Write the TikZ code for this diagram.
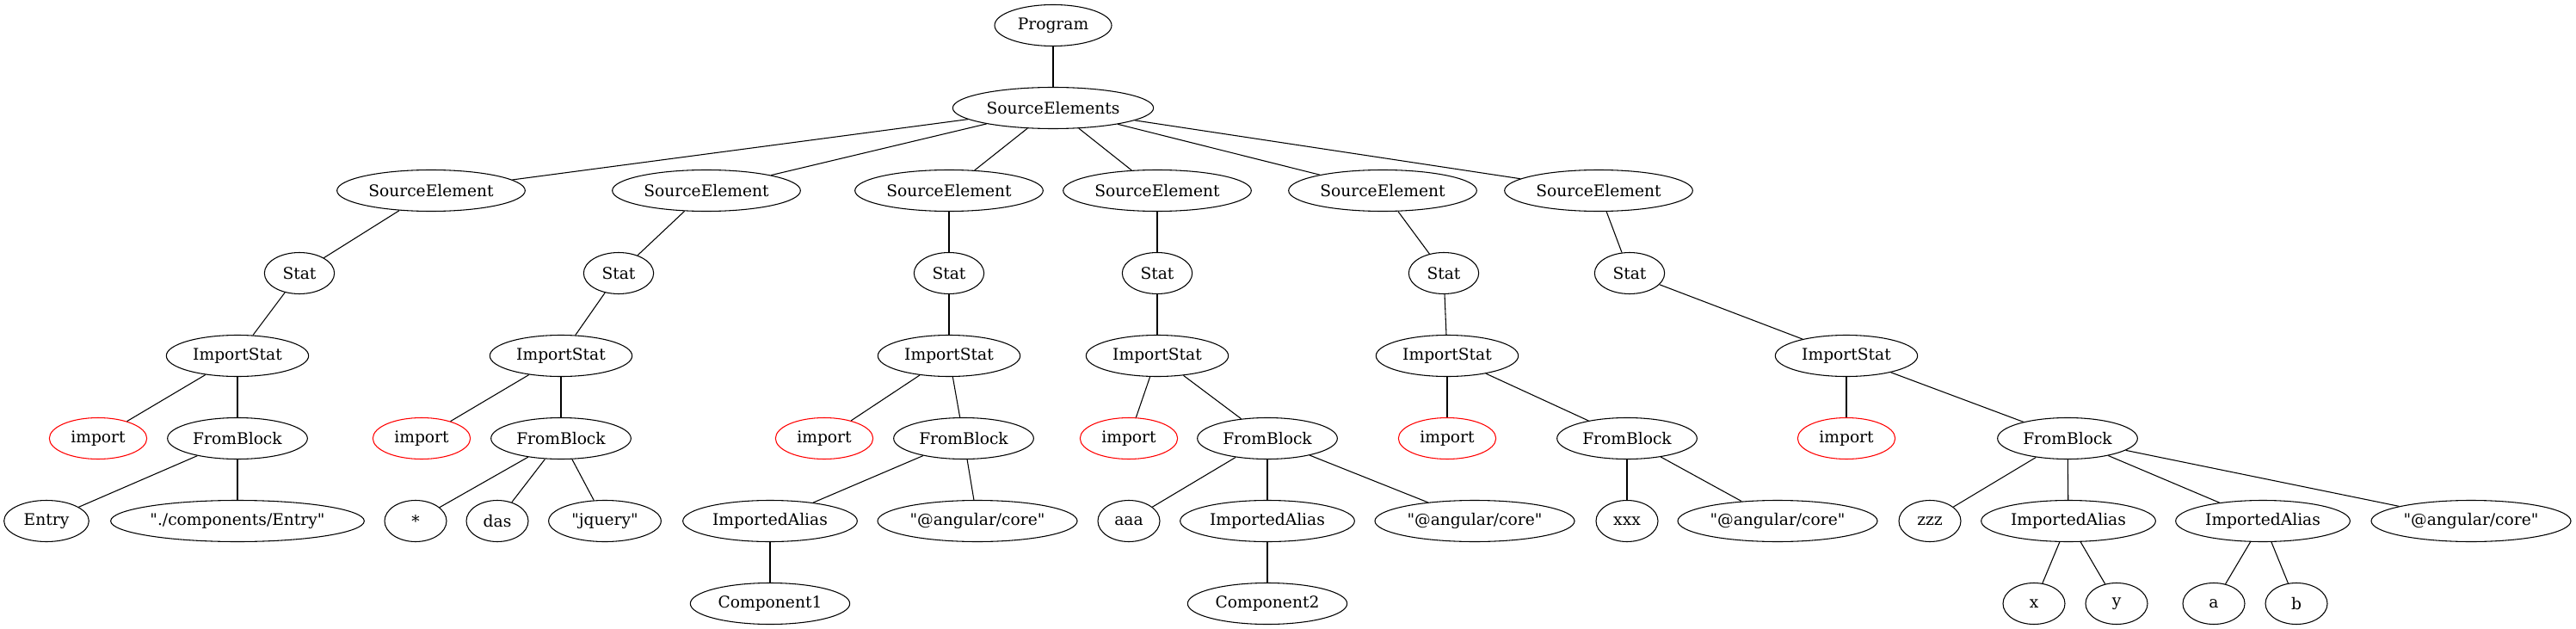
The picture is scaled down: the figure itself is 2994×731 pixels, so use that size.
\documentclass[tikz,border=0pt]{standalone}
\usepackage{fontspec}
\setmainfont{DejaVu Serif}[Ligatures=TeXOff]
\usepackage{tikz}
\usetikzlibrary{shapes,positioning}

\begin{document}
\begin{tikzpicture}[
x=0.75pt, y=-0.75pt, thick,
ast-node/.style = {ellipse,thick,draw=black,inner sep=0pt,minimum height=36pt,minimum width=#1,font=\fontsize{14pt}{16pt}\selectfont},
ast-node/.default = 54pt,
kw-node/.style = {ast-node=85pt,draw=red}
]
\useasboundingbox (0,0) rectangle (2994,731);

% top
\node [ast-node=102pt] (prog) at (1224, 29.5) {Program};
\node [ast-node=175pt] (elems) at (1224, 125.5) {SourceElements};

% source elements
\node [ast-node=164pt] (se1) at (501, 221.5) {SourceElement};
\node [ast-node=164pt] (se2) at (821, 221.5) {SourceElement};
\node [ast-node=164pt] (se3) at (1103, 221.5) {SourceElement};
\node [ast-node=164pt] (se4) at (1345, 221.5) {SourceElement};
\node [ast-node=164pt] (se5) at (1607, 221.5) {SourceElement};
\node [ast-node=164pt] (se6) at (1858, 221.5) {SourceElement};

% statements
\node [ast-node=61pt] (st1) at (348, 317.5) {Stat};
\node [ast-node=61pt] (st2) at (719, 317.5) {Stat};
\node [ast-node=61pt] (st3) at (1103, 317.5) {Stat};
\node [ast-node=61pt] (st4) at (1345, 317.5) {Stat};
\node [ast-node=61pt] (st5) at (1678, 317.5) {Stat};
\node [ast-node=61pt] (st6) at (1894, 317.5) {Stat};

\node [ast-node=124pt] (is1) at (276, 413.5) {ImportStat};
\node [ast-node=124pt] (is2) at (652, 413.5) {ImportStat};
\node [ast-node=124pt] (is3) at (1103, 413.5) {ImportStat};
\node [ast-node=124pt] (is4) at (1345, 413.5) {ImportStat};
\node [ast-node=124pt] (is5) at (1682, 413.5) {ImportStat};
\node [ast-node=124pt] (is6) at (2146, 413.5) {ImportStat};

% import / from
\node [kw-node] (im1) at (114, 509.5) {import};
\node [ast-node=122pt] (fb1) at (276, 509.5) {FromBlock};
\node [kw-node] (im2) at (490, 509.5) {import};
\node [ast-node=122pt] (fb2) at (652, 509.5) {FromBlock};
\node [kw-node] (im3) at (958, 509.5) {import};
\node [ast-node=122pt] (fb3) at (1120, 509.5) {FromBlock};
\node [kw-node] (im4) at (1312, 509.5) {import};
\node [ast-node=122pt] (fb4) at (1473, 509.5) {FromBlock};
\node [kw-node] (im5) at (1682, 509.5) {import};
\node [ast-node=122pt] (fb5) at (1891, 509.5) {FromBlock};
\node [kw-node] (im6) at (2146, 509.5) {import};
\node [ast-node=122pt] (fb6) at (2403, 509.5) {FromBlock};

% leaves
\node [ast-node=74pt] (entry) at (54, 605.5) {Entry};
\node [ast-node=221pt] (src1) at (276, 605.5) {"./components/Entry"};
\node [ast-node] (star) at (483, 605.5) {*};
\node [ast-node] (das) at (578, 605.5) {das};
\node [ast-node=98pt] (src2) at (703, 605.5) {"jquery"};
\node [ast-node=152pt] (al1) at (895, 605.5) {ImportedAlias};
\node [ast-node=174pt] (src3) at (1136, 605.5) {"@angular/core"};
\node [ast-node] (aaa) at (1312, 605.5) {aaa};
\node [ast-node=152pt] (al2) at (1473, 605.5) {ImportedAlias};
\node [ast-node=174pt] (src4) at (1714, 605.5) {"@angular/core"};
\node [ast-node] (xxx) at (1891, 605.5) {xxx};
\node [ast-node=174pt] (src5) at (2066, 605.5) {"@angular/core"};
\node [ast-node] (zzz) at (2243, 605.5) {zzz};
\node [ast-node=152pt] (al3) at (2404, 605.5) {ImportedAlias};
\node [ast-node=152pt] (al4) at (2630, 605.5) {ImportedAlias};
\node [ast-node=174pt] (src6) at (2872, 605.5) {"@angular/core"};

\node [ast-node=139pt] (comp1) at (895, 701.5) {Component1};
\node [ast-node=139pt] (comp2) at (1473, 701.5) {Component2};
\node [ast-node] (x) at (2364, 701.5) {x};
\node [ast-node] (y) at (2460, 701.5) {y};
\node [ast-node] (a) at (2573, 701.5) {a};
\node [ast-node] (b) at (2669, 701.5) {b};

% edges
\draw (prog) -- (elems);
\draw (elems) -- (se1);
\draw (elems) -- (se2);
\draw (elems) -- (se3);
\draw (elems) -- (se4);
\draw (elems) -- (se5);
\draw (elems) -- (se6);

\draw (se1) -- (st1);
\draw (st1) -- (is1);
\draw (is1) -- (im1);
\draw (is1) -- (fb1);
\draw (fb1) -- (entry);
\draw (fb1) -- (src1);

\draw (se2) -- (st2);
\draw (st2) -- (is2);
\draw (is2) -- (im2);
\draw (is2) -- (fb2);
\draw (fb2) -- (star);
\draw (fb2) -- (das);
\draw (fb2) -- (src2);

\draw (se3) -- (st3);
\draw (st3) -- (is3);
\draw (is3) -- (im3);
\draw (is3) -- (fb3);
\draw (fb3) -- (al1);
\draw (fb3) -- (src3);
\draw (al1) -- (comp1);

\draw (se4) -- (st4);
\draw (st4) -- (is4);
\draw (is4) -- (im4);
\draw (is4) -- (fb4);
\draw (fb4) -- (aaa);
\draw (fb4) -- (al2);
\draw (fb4) -- (src4);
\draw (al2) -- (comp2);

\draw (se5) -- (st5);
\draw (st5) -- (is5);
\draw (is5) -- (im5);
\draw (is5) -- (fb5);
\draw (fb5) -- (xxx);
\draw (fb5) -- (src5);

\draw (se6) -- (st6);
\draw (st6) -- (is6);
\draw (is6) -- (im6);
\draw (is6) -- (fb6);
\draw (fb6) -- (zzz);
\draw (fb6) -- (al3);
\draw (fb6) -- (al4);
\draw (fb6) -- (src6);
\draw (al3) -- (x);
\draw (al3) -- (y);
\draw (al4) -- (a);
\draw (al4) -- (b);

\end{tikzpicture}
\end{document}
